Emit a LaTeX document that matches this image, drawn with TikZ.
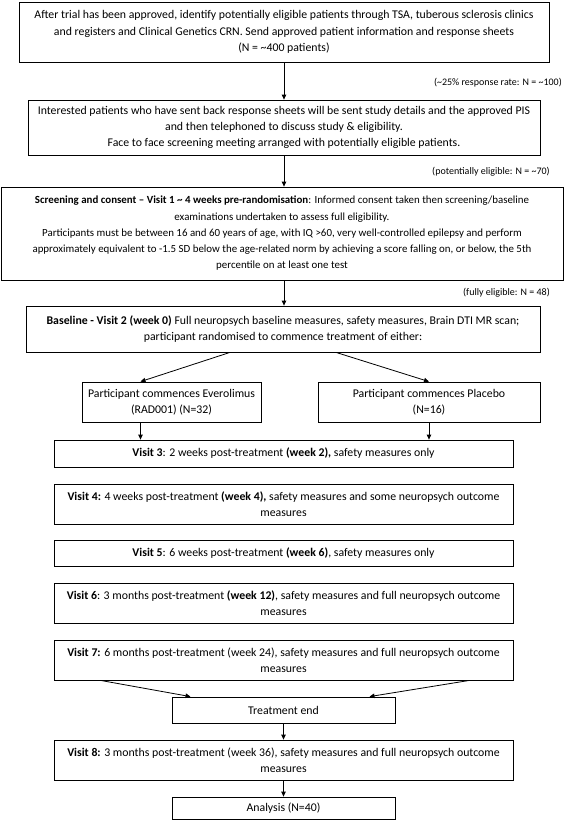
\documentclass[tikz,border=0pt]{standalone}
\usepackage{fontspec}
\setmainfont{Carlito}
\usetikzlibrary{arrows.meta}
\begin{document}
\begin{tikzpicture}[x=1pt,y=-1pt,
  box/.style={draw,line width=0.8pt,align=center,inner xsep=2pt,inner ysep=0pt,font=\fontsize{11.8}{16.3}\selectfont},
  note/.style={anchor=east,inner sep=0pt,font=\fontsize{10}{12}\selectfont},
  arr/.style={line width=0.8pt,-{Triangle[length=5pt,width=4.5pt]}}]
\useasboundingbox (0,0) rectangle (567,820);

\node[box,minimum width=530,minimum height=60] (trial) at (284,32) {After trial has been approved, identify potentially eligible patients through TSA, tuberous sclerosis clinics\\ and registers and Clinical Genetics CRN. Send approved patient information and response sheets\\ (N = \textasciitilde400 patients)};
\node[note] (resp) at (562,83) {(\textasciitilde25\% response rate: N = \textasciitilde100)};

\node[box,minimum width=512,minimum height=55] (invite) at (284,127.5) {Interested patients who have sent back response sheets will be sent study details and the approved PIS\\ and then telephoned to discuss study \& eligibility.\\ Face to face screening meeting arranged with potentially eligible patients.};
\node[note] (poteli) at (550,172) {(potentially eligible: N = \textasciitilde70)};

\node[box,minimum width=562,minimum height=93,font=\fontsize{10.9}{16.25}\selectfont] (screen) at (282,233.5) {\textbf{Screening and consent – Visit 1 \textasciitilde{} 4 weeks pre-randomisation}: Informed consent taken then screening/baseline\\ examinations undertaken to assess full eligibility.\\ Participants must be between 16 and 60 years of age, with IQ >60, very well-controlled epilepsy and perform\\ approximately equivalent to -1.5 SD below the age-related norm by achieving a score falling on, or below, the 5th\\ percentile on at least one test};
\node[note] (fulleli) at (550,293) {(fully eligible: N = 48)};

\node[box,minimum width=514,minimum height=46] (base) at (283,329) {\textbf{Baseline - Visit 2 (week 0)} Full neuropsych baseline measures, safety measures, Brain DTI MR scan;\\ participant randomised to commence treatment of either:};

\node[box,minimum width=179,minimum height=40] (evero) at (171.5,402) {Participant commences Everolimus\\ (RAD001) (N=32)};
\node[box,minimum width=222,minimum height=40] (placebo) at (429,402) {Participant commences Placebo\\ (N=16)};

\node[box,minimum width=459,minimum height=27] (visit3) at (283.5,453.5) {\textbf{Visit 3}: 2 weeks post-treatment \textbf{(week 2),} safety measures only};
\node[box,minimum width=459,minimum height=40] (visit4) at (283.5,504) {\textbf{Visit 4:} 4 weeks post-treatment \textbf{(week 4),} safety measures and some neuropsych outcome\\ measures};
\node[box,minimum width=459,minimum height=26] (visit5) at (283.5,553) {\textbf{Visit 5}: 6 weeks post-treatment \textbf{(week 6)}, safety measures only};
\node[box,minimum width=459,minimum height=40] (visit6) at (283.5,603) {\textbf{Visit 6}: 3 months post-treatment \textbf{(week 12)}, safety measures and full neuropsych outcome\\ measures};
\node[box,minimum width=459,minimum height=40] (visit7) at (283.5,660) {\textbf{Visit 7:} 6 months post-treatment (week 24), safety measures and full neuropsych outcome\\ measures};

\node[box,minimum width=223,minimum height=26] (txend) at (283.5,710) {Treatment end};
\node[box,minimum width=459,minimum height=40] (visit8) at (283.5,760) {\textbf{Visit 8:} 3 months post-treatment (week 36), safety measures and full neuropsych outcome\\ measures};
\node[box,minimum width=223,minimum height=22] (analysis) at (283.5,808) {Analysis (N=40)};

\draw[arr] (trial.south) -- (invite.north);
\draw[arr] (invite.south) -- (invite.south |- screen.north);
\draw[arr] (screen.south -| invite.south) -- (invite.south |- base.north);
\draw[arr] ([xshift=-53pt]base.south) -- ([xshift=-31pt]evero.north);
\draw[arr] ([xshift=53pt]base.south) -- (placebo.north);
\draw[arr] ([xshift=-31pt]evero.south) -- ([xshift=-31pt]evero.south |- visit3.north);
\draw[arr] (placebo.south) -- (placebo.south |- visit3.north);
\draw[arr] ([xshift=-183pt]visit7.south) -- ([xshift=-93pt]txend.north);
\draw[arr] ([xshift=186pt]visit7.south) -- ([xshift=86pt]txend.north);
\draw[arr] (txend.south) -- (visit8.north);
\draw[arr] (visit8.south) -- (analysis.north);

\end{tikzpicture}
\end{document}
